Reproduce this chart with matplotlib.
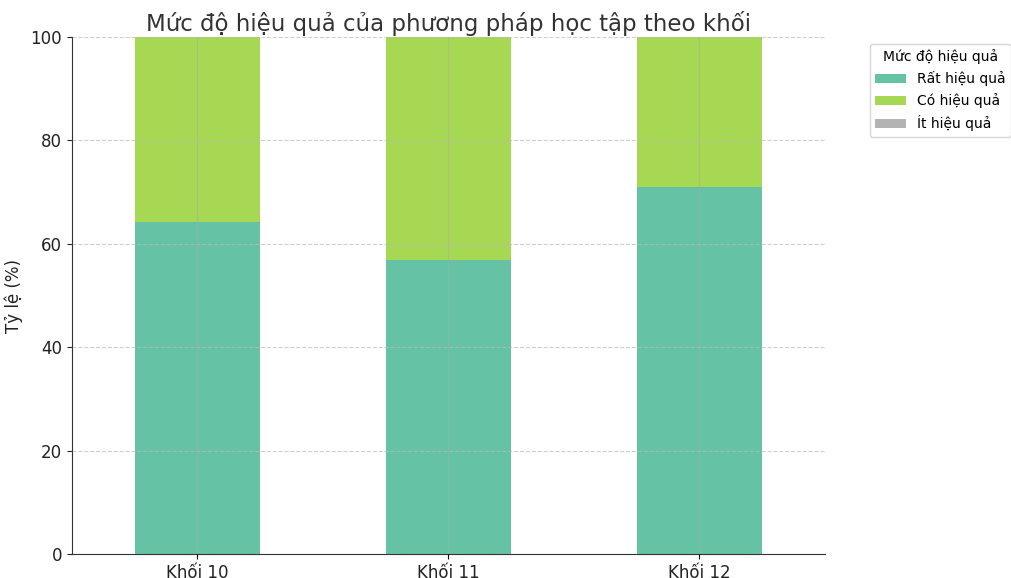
import matplotlib
matplotlib.use("Agg")
import matplotlib.pyplot as plt
import numpy as np

categories = ["Khối 10", "Khối 11", "Khối 12"]
series_names = ["Rất hiệu quả", "Có hiệu quả", "Ít hiệu quả"]
rat_hieu_qua = [64.3, 56.9, 71.0]
co_hieu_qua = [35.7, 43.1, 29.0]
it_hieu_qua = [0.0, 0.0, 0.0]
colors = ["#66c2a5", "#a6d854", "#b3b3b3"]

fig = plt.figure(figsize=(10.11, 5.78), dpi=100)
ax = fig.add_axes([0.071, 0.0415, 0.745, 0.8945])

x = np.arange(len(categories))
bottom = np.zeros(len(categories))
for name, vals, c in zip(series_names, [rat_hieu_qua, co_hieu_qua, it_hieu_qua], colors):
    ax.bar(x, vals, width=0.5, bottom=bottom, color=c, label=name)
    bottom += np.array(vals)

ax.set_xlim(-0.5, 2.5)
ax.set_ylim(0, 100)
ax.set_xticks(x)
ax.set_xticklabels(categories, fontsize=12, color="#222222")
ax.tick_params(axis="y", labelsize=12, colors="#222222")
ax.set_ylabel("Tỷ lệ (%)", fontsize=12, color="#222222", labelpad=5)
ax.set_title("Mức độ hiệu quả của phương pháp học tập theo khối", fontsize=16.5, color="#333333", pad=4)
ax.grid(True, axis="y", linestyle="--", color="#bbbbbb", alpha=0.7, linewidth=0.8)
ax.grid(True, axis="x", linestyle="-", color="#aaaaaa", alpha=0.5, linewidth=0.8)
ax.set_axisbelow(False)
for s in ["top", "right"]:
    ax.spines[s].set_visible(False)
ax.spines["left"].set_color("#333333")
ax.spines["bottom"].set_color("#333333")

leg = ax.legend(title="Mức độ hiệu quả", loc="upper left", bbox_to_anchor=(1.05, 1.0),
                fontsize=10, title_fontsize=10, frameon=True, handlelength=2.2)
leg.get_frame().set_edgecolor("#cccccc")

fig.savefig("out.png", dpi=100)
